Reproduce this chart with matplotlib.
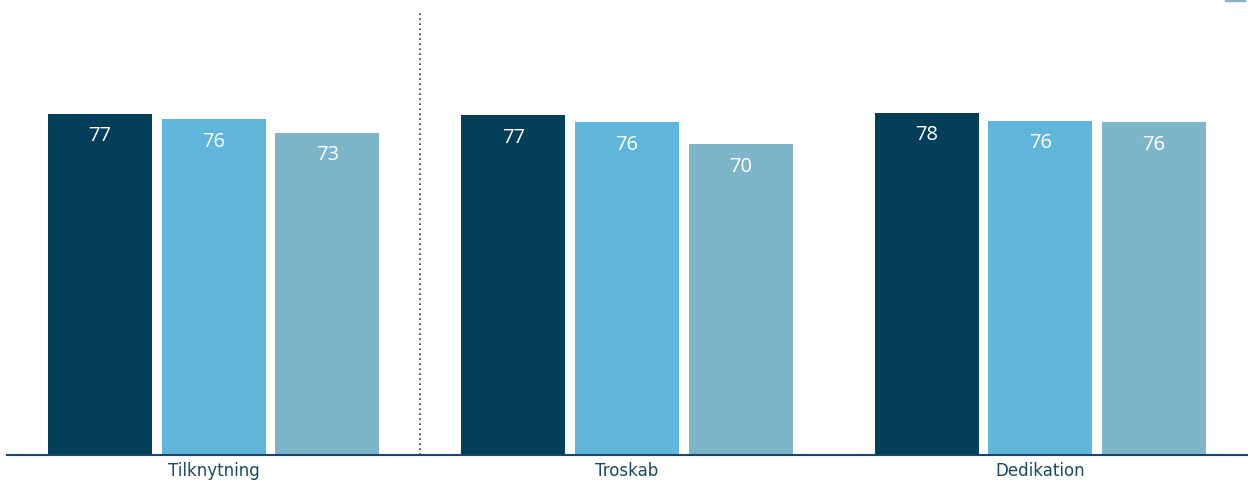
import numpy as np
import matplotlib
matplotlib.use("Agg")
from matplotlib import pyplot as plt
from matplotlib.patches import Rectangle

categories = ["Tilknytning", "Troskab", "Dedikation"]
series_a = [77.3, 76.9, 77.5]
series_b = [76.0, 75.3, 75.7]
series_c = [73.0, 70.3, 75.3]
labels_a = ["77", "77", "78"]
labels_b = ["76", "76", "76"]
labels_c = ["73", "70", "76"]

colors = ["#033f58", "#5fb5da", "#7fb5c9"]

fig = plt.figure(figsize=(12.48, 4.81), dpi=100)
ax = fig.add_axes([7 / 1248, 25.5 / 481, 1240 / 1248, 455.5 / 481])

x = np.arange(len(categories))
w = 0.252
step = 0.275
for i, (vals, labs) in enumerate([(series_a, labels_a), (series_b, labels_b), (series_c, labels_c)]):
    pos = x + (i - 1) * step
    ax.bar(pos, vals, width=w, color=colors[i], zorder=2)
    for p, v, t in zip(pos, vals, labs):
        ax.text(p, v - 4.9, t, ha="center", va="center", color="white",
                fontsize=14.5, family="Open Sans", zorder=3)

ax.axvline(0.5, ymin=0, ymax=443 / 455.5, color="#333333", lw=1.2,
           linestyle=(0, (1, 2)), zorder=1)

ax.set_xlim(-0.5, 2.5)
ax.set_ylim(0, 455.5 / 4.41)
ax.set_xticks(x)
ax.set_xticklabels(categories, fontsize=12, color="#1c4a5e", family="DejaVu Sans")
ax.tick_params(axis="x", length=0, pad=5)
ax.set_yticks([])
for s in ["top", "right", "left"]:
    ax.spines[s].set_visible(False)
ax.spines["bottom"].set_color("#1f4468")
ax.spines["bottom"].set_linewidth(1.5)

# clipped legend swatch at the top edge
fig.patches.append(Rectangle((1225 / 1248, 479 / 481), 20 / 1248, 3 / 481,
                             transform=fig.transFigure, color=colors[2]))

fig.savefig("out.png", dpi=100)
